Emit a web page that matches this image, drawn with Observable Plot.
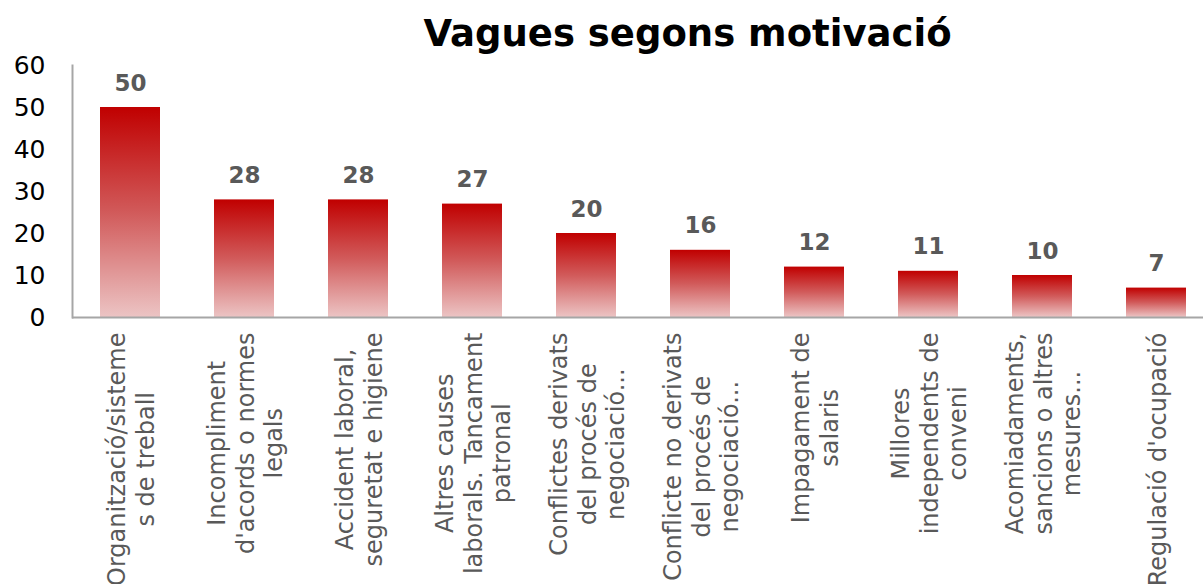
<!DOCTYPE html>
<html>
<head>
<meta charset="utf-8">
<script src="https://cdn.jsdelivr.net/npm/d3@7"></script>
<script src="https://cdn.jsdelivr.net/npm/@observablehq/plot@0.6"></script>
<style>
  body { margin: 0; background: #fff; font-family: "DejaVu Sans", Verdana, sans-serif; }
  #title { height: 60px; box-sizing: border-box; padding-top: 12px; padding-left: 172px; text-align: center;
           font-weight: bold; font-size: 37px; line-height: 44px; color: #000; white-space: nowrap; }
  #chart svg { display: block; overflow: visible; }
</style>
</head>
<body>
<div id="title">Vagues segons motivació</div>
<div id="chart"></div>
<script>
const categories = [
  "Organització/sisteme\ns de treball",
  "Incompliment\nd'acords o normes\nlegals",
  "Accident laboral,\nseguretat e higiene",
  "Altres causes\nlaborals. Tancament\npatronal",
  "Conflictes derivats\ndel procés de\nnegociació...",
  "Conflicte no derivats\ndel procés de\nnegociació...",
  "Impagament de\nsalaris",
  "Millores\nindependents de\nconveni",
  "Acomiadaments,\nsancions o altres\nmesures...",
  "Regulació d'ocupació"
];
const values = [50, 28, 28, 27, 20, 16, 12, 11, 10, 7];
const yTicks = [0, 10, 20, 30, 40, 50, 60];

const W = 1203, H = 524, mTop = 5, mBottom = 267, mLeft = 72;
const yMax = 60;
const pxPerUnit = (H - mTop - mBottom) / yMax;
const labelFont = 24, labelGap = 15;

// measure longest line of each label so multi-line labels hang from the axis like the original
const ctx = document.createElement("canvas").getContext("2d");
ctx.font = `${labelFont}px "DejaVu Sans"`;
const longest = s => d3.max(s.split("\n"), l => ctx.measureText(l).width);

const data = categories.map((c, i) => ({
  cat: c, value: values[i],
  labelY: -(labelGap + longest(c) / 2) / pxPerUnit
}));

const defs = () => {
  const ns = "http://www.w3.org/2000/svg";
  const g = document.createElementNS(ns, "g");
  const d = document.createElementNS(ns, "defs");
  const lg = document.createElementNS(ns, "linearGradient");
  lg.setAttribute("id", "barGrad");
  lg.setAttribute("x1", "0"); lg.setAttribute("y1", "0");
  lg.setAttribute("x2", "0"); lg.setAttribute("y2", "1");
  [["0", "#c00000"], ["0.5", "#d15a5a"], ["1", "#ecc4c4"]].forEach(([o, c]) => {
    const s = document.createElementNS(ns, "stop");
    s.setAttribute("offset", o); s.setAttribute("stop-color", c);
    lg.appendChild(s);
  });
  d.appendChild(lg); g.appendChild(d);
  return g;
};

const plot = Plot.plot({
  width: W, height: H,
  marginTop: mTop, marginBottom: mBottom, marginLeft: mLeft, marginRight: 0,
  style: { fontFamily: "DejaVu Sans, Verdana, sans-serif", background: "#fff", overflow: "visible" },
  x: { domain: categories, range: [mLeft + 1, W + 10], paddingInner: 0.474, paddingOuter: 0.237, axis: null },
  y: { domain: [0, yMax], axis: null },
  marks: [
    defs,
    Plot.barY(data, { x: "cat", y: "value", fill: "url(#barGrad)" }),
    Plot.ruleY([0], { stroke: "#a6a6a6", strokeWidth: 2 }),
    Plot.frame({ anchor: "left", stroke: "#a6a6a6", strokeWidth: 2 }),
    Plot.text(yTicks, { x: null, y: d => d, text: d => String(d), frameAnchor: "left", textAnchor: "end", dx: -27,
      fontSize: 25, fill: "#000" }),
    Plot.text(data, { x: "cat", y: "value", text: d => String(d.value), dy: -17, lineAnchor: "bottom",
      fontSize: 23, fontWeight: "bold", fill: "#595959" }),
    Plot.text(data, { x: "cat", y: "labelY", text: "cat", rotate: -90, textAnchor: "middle", lineAnchor: "middle",
      lineHeight: 1.17, fontSize: labelFont, fill: "#595959" })
  ]
});
document.getElementById("chart").appendChild(plot);
</script>
</body>
</html>
